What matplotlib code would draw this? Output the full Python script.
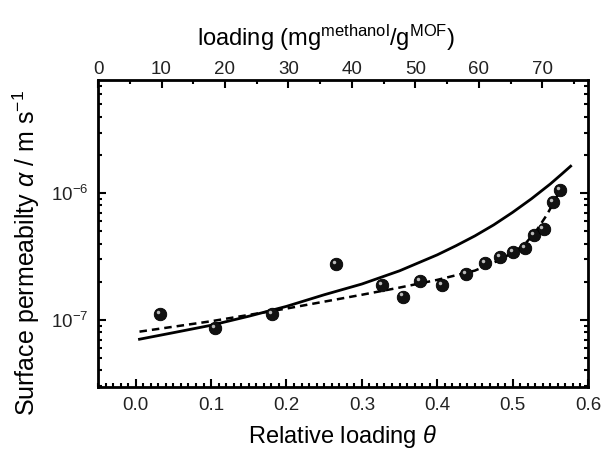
import numpy as np
import matplotlib.pyplot as plt
from matplotlib.ticker import MultipleLocator, LogLocator, NullFormatter
from matplotlib.transforms import offset_copy

plt.rcParams['font.family'] = ['Liberation Sans', 'DejaVu Sans']
plt.rcParams['mathtext.fontset'] = 'custom'
plt.rcParams['mathtext.rm'] = 'Liberation Sans'
plt.rcParams['mathtext.it'] = 'Liberation Sans:italic'

# measured points
theta_pts = [0.032, 0.105, 0.181, 0.266, 0.327, 0.355, 0.377, 0.406, 0.438,
             0.464, 0.483, 0.501, 0.516, 0.528, 0.541, 0.554, 0.563]
alpha_pts = [1.11e-7, 8.7e-8, 1.11e-7, 2.76e-7, 1.89e-7, 1.53e-7, 2.03e-7, 1.88e-7,
             2.29e-7, 2.79e-7, 3.15e-7, 3.45e-7, 3.67e-7, 4.67e-7, 5.21e-7, 8.54e-7, 1.06e-6]

# solid model curve
theta_solid = [0.005, 0.05, 0.1, 0.15, 0.2, 0.25, 0.3, 0.35, 0.4, 0.425, 0.45,
               0.475, 0.5, 0.525, 0.55, 0.565, 0.577]
alpha_solid = [7.05e-8, 7.94e-8, 9.08e-8, 1.07e-7, 1.28e-7, 1.58e-7, 1.92e-7, 2.44e-7,
               3.26e-7, 3.85e-7, 4.60e-7, 5.62e-7, 7.05e-7, 9.02e-7, 1.18e-6, 1.41e-6, 1.63e-6]

# dashed curve
theta_dash = [0.005, 0.1, 0.2, 0.3, 0.35, 0.4, 0.45, 0.48, 0.5, 0.515, 0.53, 0.545, 0.555, 0.563]
alpha_dash = [8.09e-8, 9.77e-8, 1.23e-7, 1.58e-7, 1.80e-7, 2.07e-7, 2.45e-7, 2.92e-7,
              3.39e-7, 3.89e-7, 4.90e-7, 6.68e-7, 8.51e-7, 1.06e-6]

fig = plt.figure(figsize=(6.09, 4.49), dpi=100)
ax = fig.add_axes([0.161, 0.138, 0.8045, 0.684])

ax.plot(theta_solid, alpha_solid, color='black', lw=2)
ax.plot(theta_dash, alpha_dash, color='black', lw=1.8, ls=(0, (3, 2)))
ax.plot(theta_pts, alpha_pts, 'o', color='#111111', ms=9, mec='#000000', mew=0.6)
hl = offset_copy(ax.transData, fig=fig, x=-1.5, y=1.5, units='points')
ax.plot(theta_pts, alpha_pts, 'o', color='#bbbbbb', ms=2.5, mew=0, transform=hl)

ax.set_yscale('log')
ax.set_xlim(-0.05, 0.6)
ax.set_ylim(2.96e-8, 7.8e-6)
ax.xaxis.set_major_locator(MultipleLocator(0.1))
ax.xaxis.set_minor_locator(MultipleLocator(0.01))
ax.xaxis.set_major_formatter(plt.FuncFormatter(lambda v, p: f'{v:.1f}'))
ax.yaxis.set_major_locator(LogLocator(base=10, numticks=10))
ax.yaxis.set_minor_locator(LogLocator(base=10, subs=np.arange(2, 10), numticks=20))
ax.yaxis.set_minor_formatter(NullFormatter())

ax.tick_params(which='both', direction='in', width=1.5, labelsize=13.5, colors='black',
               labelcolor='#222222')
ax.tick_params(which='major', length=6, pad=7)
ax.tick_params(which='minor', length=3)
ax.tick_params(axis='y', which='both', right=True)
for s in ax.spines.values():
    s.set_linewidth(2)

ax.set_xlabel(r'Relative loading $\it{\theta}$', fontsize=17, labelpad=7)
ax.set_ylabel(r'Surface permeabilty $\it{\alpha}$ / m s$^{-1}$', fontsize=18)
ax.yaxis.set_label_coords(-0.114, 0.436)

top = ax.twiny()
top.set_xlim(0, 77.2)
top.xaxis.set_major_locator(MultipleLocator(10))
top.xaxis.set_minor_locator(MultipleLocator(5))
top.tick_params(which='both', direction='in', width=1.5, labelsize=13.5, labelcolor='#222222')
top.tick_params(which='major', length=6, pad=1.5)
top.tick_params(which='minor', length=3)
top.set_xlabel(r'loading (mg$^{\rm methanol}$/g$^{\rm MOF}$)', fontsize=17)
top.xaxis.set_label_coords(0.466, 1.111)

fig.savefig('out.png', dpi=100)
